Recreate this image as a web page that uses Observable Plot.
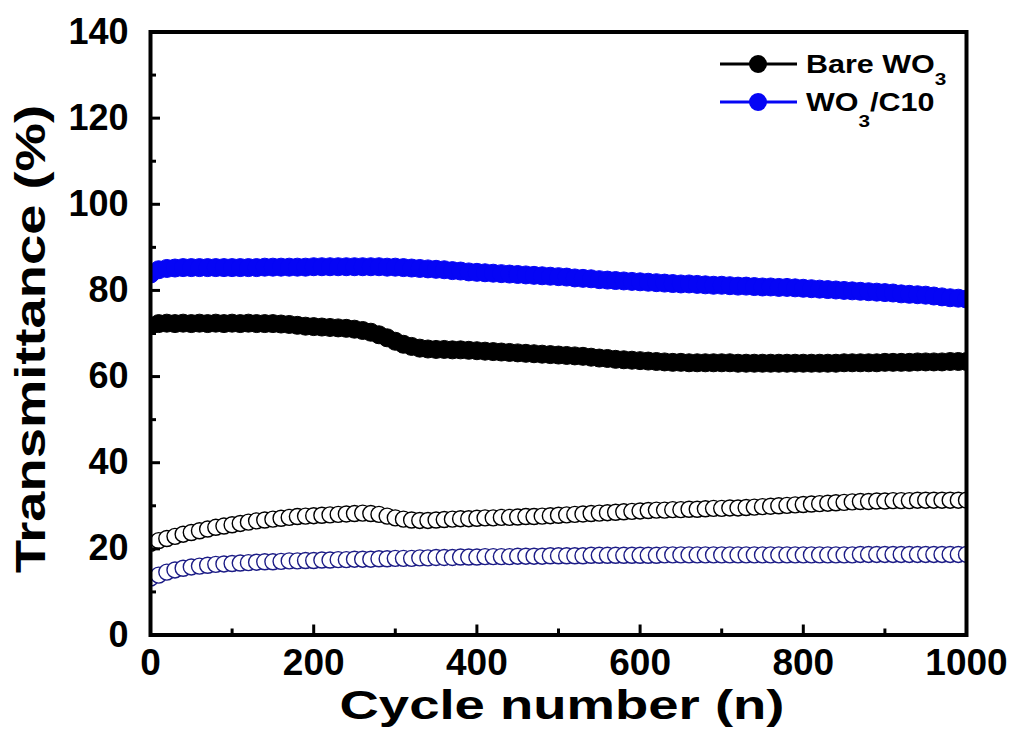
<!DOCTYPE html>
<html>
<head>
<meta charset="utf-8">
<script src="https://cdn.jsdelivr.net/npm/d3@7"></script>
<script src="https://cdn.jsdelivr.net/npm/@observablehq/plot@0.6"></script>
<style>
  html, body { margin: 0; padding: 0; background: #fff; }
  #chart { width: 1017px; height: 746px; }
</style>
</head>
<body>
<div id="chart"></div>
<script>
const cycles = [0,10,20,30,40,50,60,70,80,90,100,110,120,130,140,150,160,170,180,190,200,210,220,230,240,250,260,270,280,290,300,310,320,330,340,350,360,370,380,390,400,410,420,430,440,450,460,470,480,490,500,510,520,530,540,550,560,570,580,590,600,610,620,630,640,650,660,670,680,690,700,710,720,730,740,750,760,770,780,790,800,810,820,830,840,850,860,870,880,890,900,910,920,930,940,950,960,970,980,990,1000];

// Bare WO3, bleached state (filled black)
const bareBleached = [71.8,72.3,72.4,72.3,72.4,72.3,72.4,72.3,72.4,72.3,72.4,72.3,72.4,72.3,72.3,72.3,72.2,72.1,71.9,71.7,71.6,71.5,71.4,71.3,71.2,71.0,70.7,70.3,69.7,69.0,68.2,67.5,67.0,66.6,66.4,66.3,66.3,66.2,66.2,66.1,66.0,65.9,65.8,65.7,65.6,65.5,65.4,65.3,65.2,65.1,65.0,64.9,64.8,64.7,64.5,64.3,64.2,64.0,63.9,63.8,63.7,63.6,63.5,63.4,63.3,63.3,63.2,63.2,63.2,63.2,63.2,63.2,63.1,63.1,63.1,63.1,63.1,63.1,63.1,63.1,63.1,63.1,63.1,63.1,63.1,63.2,63.2,63.2,63.2,63.2,63.3,63.3,63.3,63.3,63.4,63.4,63.4,63.4,63.5,63.5,63.5];

// WO3/C10, bleached state (filled blue)
const c10Bleached = [83.8,84.8,85.1,85.2,85.3,85.3,85.3,85.3,85.3,85.3,85.3,85.3,85.3,85.3,85.4,85.4,85.4,85.4,85.4,85.4,85.5,85.5,85.5,85.5,85.5,85.5,85.5,85.5,85.5,85.4,85.4,85.3,85.2,85.1,85.0,84.9,84.8,84.6,84.5,84.3,84.2,84.1,84.0,83.9,83.8,83.7,83.6,83.5,83.4,83.3,83.2,83.1,82.9,82.8,82.7,82.5,82.4,82.3,82.2,82.1,82.0,81.9,81.8,81.7,81.6,81.5,81.5,81.4,81.3,81.2,81.2,81.1,81.0,81.0,80.9,80.8,80.8,80.7,80.7,80.6,80.5,80.4,80.3,80.2,80.1,80.0,79.9,79.8,79.7,79.6,79.5,79.4,79.2,79.1,79.0,78.9,78.7,78.5,78.3,78.2,78.0];

// Bare WO3, colored state (open black)
const bareColored = [21.3,21.9,22.4,22.9,23.4,23.8,24.2,24.6,25.0,25.3,25.6,25.9,26.2,26.5,26.7,26.9,27.1,27.3,27.5,27.6,27.7,27.8,27.9,28.0,28.1,28.2,28.3,28.2,28.0,27.6,27.2,26.9,26.7,26.6,26.6,26.7,26.8,26.9,27.0,27.0,27.1,27.2,27.2,27.3,27.3,27.4,27.5,27.5,27.6,27.7,27.8,27.9,28.0,28.1,28.2,28.3,28.4,28.5,28.6,28.7,28.8,28.9,29.0,29.0,29.1,29.1,29.2,29.2,29.3,29.4,29.4,29.5,29.5,29.6,29.7,29.8,29.9,30.0,30.1,30.2,30.3,30.4,30.5,30.6,30.7,30.8,30.9,31.0,31.0,31.1,31.1,31.2,31.2,31.2,31.3,31.3,31.3,31.3,31.3,31.3,31.3];

// WO3/C10, colored state (open blue)
const c10Colored = [13.2,13.9,14.6,15.1,15.5,15.8,16.0,16.2,16.4,16.5,16.6,16.7,16.8,16.9,17.0,17.0,17.1,17.2,17.2,17.3,17.3,17.4,17.4,17.5,17.5,17.6,17.6,17.6,17.7,17.7,17.8,17.8,17.8,17.9,17.9,18.0,18.0,18.0,18.1,18.1,18.1,18.2,18.2,18.2,18.2,18.3,18.3,18.3,18.3,18.4,18.4,18.4,18.4,18.4,18.5,18.5,18.5,18.5,18.5,18.5,18.5,18.5,18.5,18.6,18.6,18.6,18.6,18.6,18.6,18.6,18.6,18.6,18.6,18.6,18.6,18.6,18.6,18.6,18.6,18.6,18.6,18.6,18.6,18.6,18.6,18.6,18.6,18.7,18.7,18.7,18.7,18.7,18.7,18.7,18.7,18.7,18.7,18.7,18.7,18.7,18.7];

const xMajorTicks = [0,200,400,600,800,1000];
const xMinorTicks = [100,300,500,700,900];
const yMajorTicks = [0,20,40,60,80,100,120,140];
const yMinorTicks = [10,30,50,70,90,110,130];

const xTitle = "Cycle number (n)";
const yTitle = "Transmittance (%)";
const seriesNames = ["Bare WO", "WO"];

const blue = "#0505f5";
const navy = "#1c1c86";

const rows = (ys) => cycles.map((c, i) => ({c, v: ys[i]}));

const font = "'Liberation Sans', Arial, Helvetica, sans-serif";

const plot = Plot.plot({
  width: 1017,
  height: 746,
  marginLeft: 150,
  marginRight: 51,
  marginTop: 31.5,
  marginBottom: 111.5,
  style: {fontFamily: font, fontWeight: "bold", background: "#fff", color: "#000"},
  x: {domain: [0, 1000], label: null},
  y: {domain: [0, 140], label: null},
  marks: [
    Plot.dot(rows(bareColored), {x: "c", y: "v", r: 8, fill: "#fff", stroke: "#000", strokeWidth: 1.4, clip: true}),
    Plot.dot(rows(c10Colored), {x: "c", y: "v", r: 8, fill: "#fff", stroke: navy, strokeWidth: 1.4, clip: true}),
    Plot.dot(rows(bareBleached), {x: "c", y: "v", r: 9, fill: "#000", stroke: "#000", strokeWidth: 1, clip: true}),
    Plot.dot(rows(c10Bleached), {x: "c", y: "v", r: 9, fill: blue, stroke: blue, strokeWidth: 1, clip: true}),
    Plot.axisX({anchor: "bottom", ticks: xMajorTicks, tickFormat: d => String(d), tickSize: -10, tickPadding: 24, strokeWidth: 3, fontSize: 37, label: null}),
    Plot.axisX({anchor: "bottom", ticks: xMinorTicks, tickSize: -6, text: null, strokeWidth: 3, label: null}),
    Plot.axisY({anchor: "left", ticks: yMajorTicks, tickFormat: d => String(d), tickSize: -10, tickPadding: 32, strokeWidth: 3, fontSize: 36, label: null}),
    Plot.axisY({anchor: "left", ticks: yMinorTicks, tickSize: -6, text: null, strokeWidth: 3, label: null}),
    Plot.frame({stroke: "#000", strokeWidth: 4})
  ]
});

document.getElementById("chart").appendChild(plot);

const svg = d3.select(plot);
// axis titles
svg.append("text")
  .attr("x", 562).attr("y", 719)
  .attr("text-anchor", "middle")
  .attr("font-family", font).attr("font-weight", "bold").attr("font-size", 40)
  .attr("textLength", 445).attr("lengthAdjust", "spacingAndGlyphs")
  .attr("fill", "#000")
  .text(xTitle);
svg.append("text")
  .attr("transform", "translate(45,339) rotate(-90)")
  .attr("text-anchor", "middle")
  .attr("font-family", font).attr("font-weight", "bold").attr("font-size", 42)
  .attr("textLength", 468).attr("lengthAdjust", "spacingAndGlyphs")
  .attr("fill", "#000")
  .text(yTitle);

// legend
const legend = svg.append("g").attr("font-family", font).attr("font-weight", "bold");
const legRows = [
  {y: 64, color: "#000", name: seriesNames[0], after: "", subDy: 12},
  {y: 102, color: blue, name: seriesNames[1], after: "/C10", subDy: 16}
];
legRows.forEach(r => {
  legend.append("line").attr("x1", 720).attr("x2", 797).attr("y1", r.y).attr("y2", r.y)
    .attr("stroke", r.color).attr("stroke-width", 3);
  legend.append("circle").attr("cx", 758).attr("cy", r.y).attr("r", 9).attr("fill", r.color);
  const t = legend.append("text")
    .attr("transform", `translate(806,${r.y + 9}) scale(1.22,1)`)
    .attr("text-anchor", "start")
    .attr("font-size", 25).attr("fill", "#000");
  t.append("tspan").text(r.name);
  t.append("tspan").attr("font-size", 17).attr("dy", r.subDy).text("3");
  if (r.after) t.append("tspan").attr("dy", -r.subDy).text(r.after);
});
</script>
</body>
</html>
